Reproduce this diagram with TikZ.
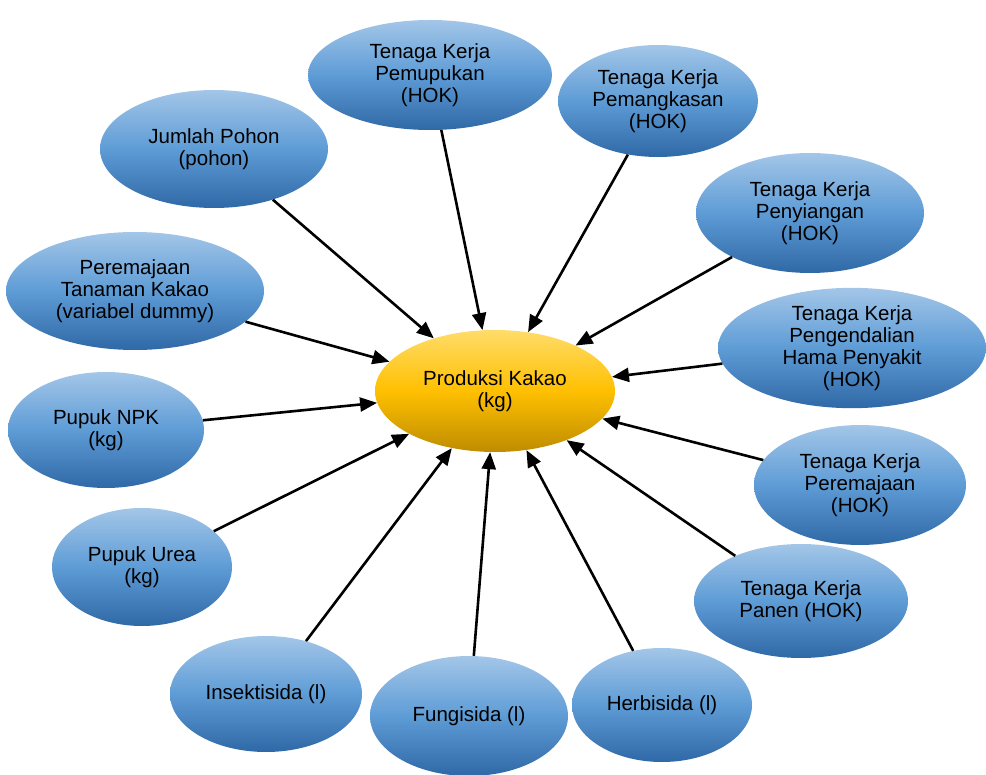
\documentclass[tikz,border=0pt]{standalone}
\usepackage{fontspec}
\setmainfont{Liberation Sans}
\usetikzlibrary{shapes.geometric,arrows.meta}
\begin{document}
\begin{tikzpicture}[x=1pt,y=-1pt,
  bub/.style={ellipse,inner sep=0pt,top color=blueA,bottom color=blueC,middle color=blueB,
    align=center,font=\fontsize{20.5}{22}\selectfont,text=black},
  cen/.style={ellipse,inner sep=0pt,top color=yelA,bottom color=yelC,middle color=yelB,
    align=center,font=\fontsize{20.5}{22}\selectfont,text=black},
  arr/.style={line width=2.6pt,-{Triangle[length=17pt,width=14pt]}}]
\definecolor{blueA}{HTML}{A3C6E8}
\definecolor{blueB}{HTML}{5E9CD6}
\definecolor{blueC}{HTML}{2F68A6}
\definecolor{yelA}{HTML}{FFDC6A}
\definecolor{yelB}{HTML}{FFC000}
\definecolor{yelC}{HTML}{BE8C00}
\useasboundingbox (0,0) rectangle (986,775);
\node[cen,minimum width=240pt,minimum height=122pt] (p) at (495,391) {Produksi Kakao\\(kg)};
\node[bub,minimum width=244pt,minimum height=110pt] (a) at (430,75) {Tenaga Kerja\\Pemupukan\\(HOK)};
\node[bub,minimum width=200pt,minimum height=112pt] (b) at (658,101) {Tenaga Kerja\\Pemangkasan\\(HOK)};
\node[bub,minimum width=228pt,minimum height=118pt] (c) at (214,149) {Jumlah Pohon\\(pohon)};
\node[bub,minimum width=228pt,minimum height=120pt] (d) at (810,213) {Tenaga Kerja\\Penyiangan\\(HOK)};
\node[bub,minimum width=258pt,minimum height=118pt] (e) at (135,291) {Peremajaan\\Tanaman Kakao\\(variabel dummy)};
\node[bub,minimum width=268pt,minimum height=120pt] (f) at (852,348) {Tenaga Kerja\\Pengendalian\\Hama Penyakit\\(HOK)};
\node[bub,minimum width=196pt,minimum height=116pt] (g) at (106,430) {Pupuk NPK\\(kg)};
\node[bub,minimum width=212pt,minimum height=120pt] (h) at (860,485) {Tenaga Kerja\\Peremajaan\\(HOK)};
\node[bub,minimum width=180pt,minimum height=118pt] (i) at (142,567) {Pupuk Urea\\(kg)};
\node[bub,minimum width=214pt,minimum height=114pt] (j) at (801,601) {Tenaga Kerja\\Panen (HOK)};
\node[bub,minimum width=192pt,minimum height=116pt] (k) at (266,694) {Insektisida (l)};
\node[bub,minimum width=198pt,minimum height=120pt] (l) at (469,716) {Fungisida (l)};
\node[bub,minimum width=180pt,minimum height=114pt] (m) at (662,705) {Herbisida (l)};
\foreach \n in {a,b,c,d,e,f,g,h,i,j,k,l,m} \draw[arr] (\n) -- (p);
\end{tikzpicture}
\end{document}
